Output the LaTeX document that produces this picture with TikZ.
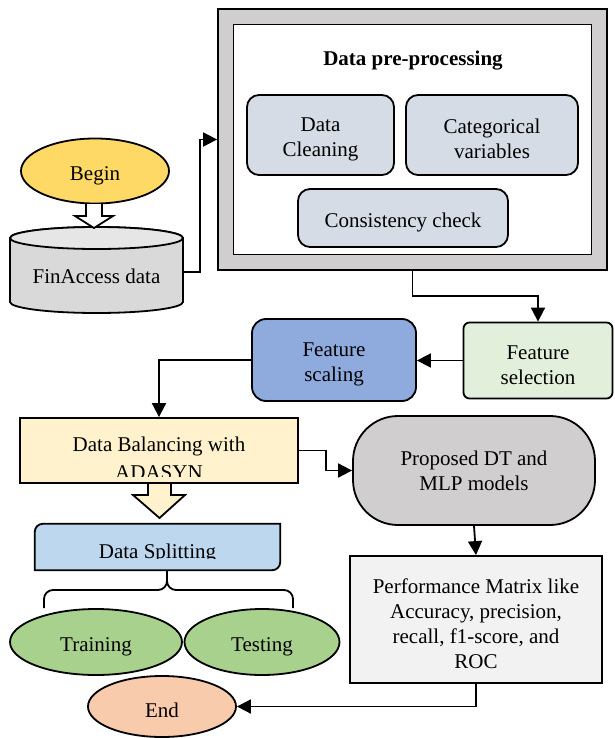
\documentclass[tikz,border=0pt]{standalone}
\usepackage{fontspec}
\setmainfont{Liberation Serif}
\usetikzlibrary{shapes.geometric,arrows.meta,positioning}

\definecolor{beginyellow}{HTML}{FFD966}
\definecolor{cylbody}{HTML}{D9D9D9}
\definecolor{cyltop}{HTML}{E7E6E6}
\definecolor{framegray}{HTML}{D0CECE}
\definecolor{subblue}{HTML}{D6DCE5}
\definecolor{scaleblue}{HTML}{8FAADC}
\definecolor{selgreen}{HTML}{E2EFDA}
\definecolor{balyellow}{HTML}{FFF2CC}
\definecolor{splitblue}{HTML}{BDD7EE}
\definecolor{modelgray}{HTML}{D0CECE}
\definecolor{perfgray}{HTML}{F2F2F2}
\definecolor{setgreen}{HTML}{A9D18E}
\definecolor{endorange}{HTML}{F8CBAD}

% taller first line, pushes text a little down in its box
\newcommand{\tstrut}{\rule{0pt}{23pt}}

\begin{document}
\begin{tikzpicture}[x=1pt,y=-1pt,
	every node/.style={font=\fontsize{21}{25}\selectfont, align=center, inner sep=0pt,
		execute at begin node={\tstrut}},
	stage/.style={draw, line width=1.8pt, rounded corners=12pt, fill=subblue},
	oval/.style={draw, ellipse, line width=1.8pt},
	link/.style={line width=1.8pt, -{Triangle[length=14pt,width=14pt]}}]
\def\lw{1.8pt}
\def\cylrx{86.5pt}
\def\cylry{11pt}

\useasboundingbox (0,0) rectangle (614,738);

% start and data source
\node[oval, fill=beginyellow, minimum width=148pt, minimum height=65pt] (begin) at (95,171) {Begin};

\filldraw[fill=cylbody, line width=\lw] (10,238) -- (10,302)
	arc[start angle=180, end angle=360, x radius=\cylrx, y radius=\cylry] -- (183,238)
	arc[start angle=0, end angle=180, x radius=\cylrx, y radius=\cylry] -- cycle;
\filldraw[fill=cyltop, line width=\lw] (96.5,238) ellipse[x radius=\cylrx, y radius=\cylry];
\node[minimum width=173pt] (fin) at (96.5,272) {FinAccess data};

\filldraw[fill=white, line width=\lw] (86,204) -- (86,216) -- (75,216) -- (94,228) -- (113,216) -- (102,216) -- (102,204);

% pre-processing block
\node[draw, fill=framegray, line width=\lw, minimum width=389pt, minimum height=261pt] (prep) at (412.5,139.5) {};
\node[draw, fill=white, line width=\lw, minimum width=358pt, minimum height=230pt] (inner) at (prep) {};
\node[font=\fontsize{21}{25}\selectfont\bfseries] (title) at (413,56) {Data pre-processing};
\node[stage, minimum width=147pt, minimum height=80pt] (clean) at (320.5,135) {\tstrut Data\\Cleaning};
\node[stage, minimum width=172pt, minimum height=80pt] (categ) at (492,135) {\tstrut Categorical\\variables};
\node[stage, minimum width=210pt, minimum height=58pt] (consist) at (403,218) {Consistency check};

\draw[link] (fin.east) -- ++(17,0) |- (prep.west);

% features
\node[draw, line width=\lw, rounded corners=6pt, fill=selgreen, minimum width=149pt, minimum height=76pt] (select) at (538,360.5) {\tstrut Feature\\selection};
\node[draw, line width=\lw, rounded corners=14pt, fill=scaleblue, minimum width=164pt, minimum height=82pt] (scale) at (334,360) {\tstrut Feature\\scaling};

\draw[link] (prep.south) -- ++(0,25) -| (select.north);
\draw[link] (select.west) -- (select.west -| scale.east);

% balancing
\node[draw, line width=\lw, fill=balyellow, minimum width=278pt, minimum height=65pt] (balance) at (159,450.5) {};
\begin{scope}
	\clip (20,418) rectangle (298,476);
	\node (balancetext) at (159,458.5) {Data Balancing with\\[3pt]ADASYN};
\end{scope}
\draw[link] (scale.west) -| (balance.north);

\filldraw[fill=balyellow, line width=\lw] (148,484) -- (148,495) -- (133,495) -- (159.5,518) -- (185,495) -- (171,495) -- (171,484);

% splitting
\node[minimum width=245pt, minimum height=46pt] (split) at (157.5,547) {};
\filldraw[fill=splitblue, line width=\lw] (split.south west) -- ([yshift=-8pt]split.north west)
	arc[start angle=180, end angle=90, radius=8pt] -- (split.north east) -- ([yshift=8pt]split.south east)
	arc[start angle=0, end angle=-90, radius=8pt] -- cycle;
\begin{scope}
	\clip (35,524) rectangle (280,558.5);
	\node[anchor=base] (splittext) at (157.5,558) {Data Splitting};
\end{scope}

\draw[line width=\lw, rounded corners=9pt] (44,608) -- (44,590) -- (167,590) -- (167,571);
\draw[line width=\lw, rounded corners=9pt] (293,608) -- (293,590) -- (167,590) -- (167,571);

\node[oval, fill=setgreen, minimum width=172pt, minimum height=66pt] (train) at (96,642) {Training};
\node[oval, fill=setgreen, minimum width=155pt, minimum height=66pt] (test) at (262,642) {Testing};

% models and evaluation
\node[draw, line width=\lw, rounded corners=45pt, fill=modelgray, minimum width=242pt, minimum height=109pt] (model) at (474,470.5) {Proposed DT and\\MLP models};
\node[draw, line width=\lw, fill=perfgray, minimum width=252pt, minimum height=127pt] (perf) at (476,619.5) {\tstrut Performance Matrix like\\Accuracy, precision,\\recall, f1-score, and\\ROC};
\node[oval, fill=endorange, minimum width=148pt, minimum height=61pt] (end) at (162,706.5) {End};

\draw[link] (balance.east) -- ++(27,0) |- (model.west);
\draw[link] (model.south) -- (perf.north);
\draw[link] (perf.south) |- (end.east);

\end{tikzpicture}
\end{document}
